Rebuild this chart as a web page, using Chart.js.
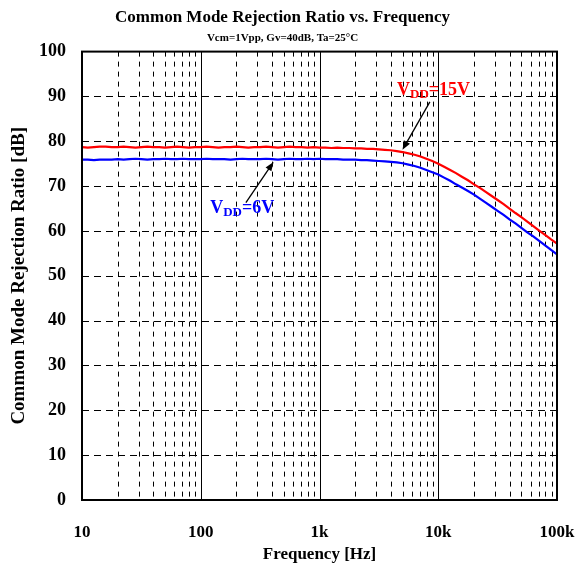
<!DOCTYPE html>
<html>
<head>
<meta charset="utf-8">
<title>CMRR vs Frequency</title>
<script src="https://cdn.jsdelivr.net/npm/chart.js@4.4.1/dist/chart.umd.min.js"></script>
<style>
    html, body { margin: 0; padding: 0; background: #fff; }
    #wrap { width: 578px; height: 567px; }
</style>
</head>
<body>
<div id="wrap"><canvas id="cmrrChart" width="578" height="567"></canvas></div>
<script>
// Frequency points [Hz], 20 per decade
const freqHz = [
    10, 11.2, 12.6, 14.1, 15.8, 17.8, 20, 22.4, 25.1, 28.2, 31.6, 35.5, 39.8, 44.7, 50.1, 56.2, 63.1, 70.8, 79.4, 89.1,
    100, 112, 126, 141, 158, 178, 200, 224, 251, 282, 316, 355, 398, 447, 501, 562, 631, 708, 794, 891,
    1000, 1120, 1260, 1410, 1580, 1780, 2000, 2240, 2510, 2820, 3160, 3550, 3980, 4470, 5010, 5620, 6310, 7080, 7940, 8910,
    10000, 11200, 12600, 14100, 15800, 17800, 20000, 22400, 25100, 28200, 31600, 35500, 39800, 44700, 50100, 56200, 63100, 70800, 79400, 89100,
    100000
];

// CMRR [dB], VDD = 15V
const cmrr15V = [
    78.7, 78.6, 78.7, 78.8, 78.8, 78.7, 78.7, 78.8, 78.7, 78.6, 78.7, 78.8, 78.7, 78.7, 78.6, 78.7, 78.8, 78.7, 78.6, 78.7,
    78.7, 78.8, 78.7, 78.6, 78.7, 78.7, 78.8, 78.7, 78.6, 78.7, 78.7, 78.8, 78.7, 78.6, 78.7, 78.8, 78.7, 78.7, 78.6, 78.7,
    78.6, 78.6, 78.5, 78.6, 78.5, 78.5, 78.4, 78.4, 78.3, 78.3, 78.2, 78.1, 78.0, 77.8, 77.6, 77.3, 77.0, 76.6, 76.1, 75.6,
    75.0, 74.3, 73.6, 72.9, 72.1, 71.3, 70.4, 69.6, 68.7, 67.8, 66.9, 66.0, 65.0, 64.0, 63.1, 62.1, 61.1, 60.1, 59.1, 58.1,
    57.2
];

// CMRR [dB], VDD = 6V
const cmrr6V = [
    75.9, 75.9, 75.8, 75.9, 75.9, 75.9, 76.0, 75.9, 76.0, 76.1, 76.0, 75.9, 76.0, 76.0, 76.1, 76.0, 76.0, 76.1, 76.0, 76.0,
    76.0, 76.1, 76.0, 76.0, 76.0, 75.9, 76.0, 76.1, 76.0, 76.0, 76.0, 76.1, 76.0, 75.9, 76.0, 76.1, 76.0, 76.0, 76.1, 76.0,
    76.1, 76.0, 76.0, 76.0, 75.9, 75.9, 75.9, 75.8, 75.8, 75.7, 75.6, 75.5, 75.4, 75.3, 75.1, 74.8, 74.5, 74.1, 73.6, 73.1,
    72.6, 71.9, 71.2, 70.4, 69.7, 68.9, 68.1, 67.2, 66.3, 65.4, 64.5, 63.6, 62.6, 61.7, 60.7, 59.7, 58.8, 57.8, 56.8, 55.8,
    54.8
];

// Grid / tick values
const xGridValues = [
    10, 20, 30, 40, 50, 60, 70, 80, 90,
    100, 200, 300, 400, 500, 600, 700, 800, 900,
    1000, 2000, 3000, 4000, 5000, 6000, 7000, 8000, 9000,
    10000, 20000, 30000, 40000, 50000, 60000, 70000, 80000, 90000,
    100000
];
const xDecadeLabels = { 10: '10', 100: '100', 1000: '1k', 10000: '10k', 100000: '100k' };
const yGridValues = [10, 20, 30, 40, 50, 60, 70, 80, 90];

// Curve labels with arrows (data coordinates)
const curveNotes = [
    { sub: 'DD', rest: '=15V', color: '#ff0000', textAt: [4500, 90.4], tip: [5000, 78.1], tail: [8500, 88.8] },
    { sub: 'DD', rest: '=6V', color: '#0000ff', textAt: [120, 64.1], tip: [410, 75.4], tail: [240, 66.3] }
];

const serif = "'Liberation Serif', 'Times New Roman', serif";

// Dashed / solid grid behind the curves
const gridPlugin = {
    id: 'gridPlugin',
    beforeDatasetsDraw(chart) {
        const { ctx, chartArea: a, scales: { x, y } } = chart;
        ctx.save();
        ctx.strokeStyle = '#000';
        ctx.lineWidth = 1;
        xGridValues.forEach(v => {
            const px = Math.round(x.getPixelForValue(v)) + 0.5;
            const major = xDecadeLabels[v] !== undefined;
            ctx.setLineDash(major ? [] : [5, 5]);
            ctx.beginPath();
            ctx.moveTo(px, a.top);
            ctx.lineTo(px, a.bottom);
            ctx.stroke();
        });
        ctx.setLineDash([7, 5]);
        yGridValues.forEach(v => {
            const py = Math.round(y.getPixelForValue(v)) + 0.5;
            ctx.beginPath();
            ctx.moveTo(a.left, py);
            ctx.lineTo(a.right, py);
            ctx.stroke();
        });
        ctx.restore();
    },
    afterDatasetsDraw(chart) {
        const { ctx, chartArea: a, scales: { x, y } } = chart;
        ctx.save();
        // frame
        ctx.strokeStyle = '#000';
        ctx.lineWidth = 2;
        ctx.strokeRect(a.left, a.top, a.right - a.left, a.bottom - a.top);

        // curve labels + arrows
        curveNotes.forEach(n => {
            const tx = x.getPixelForValue(n.textAt[0]);
            const ty = y.getPixelForValue(n.textAt[1]);
            ctx.fillStyle = n.color;
            ctx.textBaseline = 'alphabetic';
            ctx.font = 'bold 18px ' + serif;
            ctx.fillText('V', tx, ty);
            let cx = tx + ctx.measureText('V').width;
            ctx.font = 'bold 13px ' + serif;
            ctx.fillText(n.sub, cx, ty + 3);
            cx += ctx.measureText(n.sub).width;
            ctx.font = 'bold 18px ' + serif;
            ctx.fillText(n.rest, cx, ty);

            const x0 = x.getPixelForValue(n.tail[0]), y0 = y.getPixelForValue(n.tail[1]);
            const x1 = x.getPixelForValue(n.tip[0]), y1 = y.getPixelForValue(n.tip[1]);
            const ang = Math.atan2(y1 - y0, x1 - x0);
            ctx.strokeStyle = '#000';
            ctx.fillStyle = '#000';
            ctx.lineWidth = 1.3;
            ctx.beginPath();
            ctx.moveTo(x0, y0);
            ctx.lineTo(x1 - 6 * Math.cos(ang), y1 - 6 * Math.sin(ang));
            ctx.stroke();
            ctx.beginPath();
            ctx.moveTo(x1, y1);
            ctx.lineTo(x1 - 9 * Math.cos(ang) + 3.5 * Math.sin(ang), y1 - 9 * Math.sin(ang) - 3.5 * Math.cos(ang));
            ctx.lineTo(x1 - 9 * Math.cos(ang) - 3.5 * Math.sin(ang), y1 - 9 * Math.sin(ang) + 3.5 * Math.cos(ang));
            ctx.closePath();
            ctx.fill();
        });
        ctx.restore();
    }
};

const toPoints = vals => vals.map((v, i) => ({ x: freqHz[i], y: v }));

new Chart(document.getElementById('cmrrChart').getContext('2d'), {
    type: 'line',
    data: {
        datasets: [
            {
                label: 'VDD=15V',
                data: toPoints(cmrr15V),
                borderColor: '#ff0000',
                borderWidth: 2.2,
                pointRadius: 0,
                tension: 0,
                fill: false
            },
            {
                label: 'VDD=6V',
                data: toPoints(cmrr6V),
                borderColor: '#0000ff',
                borderWidth: 2.2,
                pointRadius: 0,
                tension: 0,
                fill: false
            }
        ]
    },
    options: {
        responsive: false,
        animation: false,
        layout: { padding: { left: 8, right: 21, top: 0, bottom: 0 } },
        plugins: {
            legend: { display: false },
            tooltip: { enabled: false },
            title: {
                display: true,
                text: 'Common Mode Rejection Ratio vs. Frequency',
                color: '#000',
                font: { family: serif, size: 17, weight: 'bold' },
                padding: { top: 7, bottom: 1 }
            },
            subtitle: {
                display: true,
                text: 'Vcm=1Vpp, Gv=40dB, Ta=25\u00b0C',
                color: '#000',
                font: { family: serif, size: 11, weight: 'bold' },
                padding: { top: 3, bottom: 7 }
            }
        },
        scales: {
            x: {
                type: 'logarithmic',
                min: 10,
                max: 100000,
                grid: { display: false },
                border: { display: false },
                afterBuildTicks: scale => {
                    scale.ticks = xGridValues.map(v => ({ value: v }));
                },
                afterFit: scale => {
                    scale.height = 67;
                    scale.paddingLeft = 0;
                    scale.paddingRight = 0;
                },
                ticks: {
                    autoSkip: false,
                    maxRotation: 0,
                    minRotation: 0,
                    padding: 14,
                    color: '#000',
                    font: { family: serif, size: 17, weight: 'bold' },
                    callback: value => xDecadeLabels[value] || ''
                },
                title: {
                    display: true,
                    text: 'Frequency [Hz]',
                    color: '#000',
                    font: { family: serif, size: 17, weight: 'bold' },
                    padding: { top: 0, bottom: 2 }
                }
            },
            y: {
                min: 0,
                max: 100,
                grid: { display: false },
                border: { display: false },
                afterFit: scale => {
                    scale.width = 74;
                    scale.paddingTop = 0;
                    scale.paddingBottom = 0;
                },
                ticks: {
                    stepSize: 10,
                    padding: 8,
                    color: '#000',
                    font: { family: serif, size: 18, weight: 'bold' }
                },
                title: {
                    display: true,
                    text: 'Common Mode Rejection Ratio [dB]',
                    color: '#000',
                    font: { family: serif, size: 19, weight: 'bold' },
                    padding: { top: 0, bottom: 0 }
                }
            }
        }
    },
    plugins: [gridPlugin]
});
</script>
</body>
</html>
